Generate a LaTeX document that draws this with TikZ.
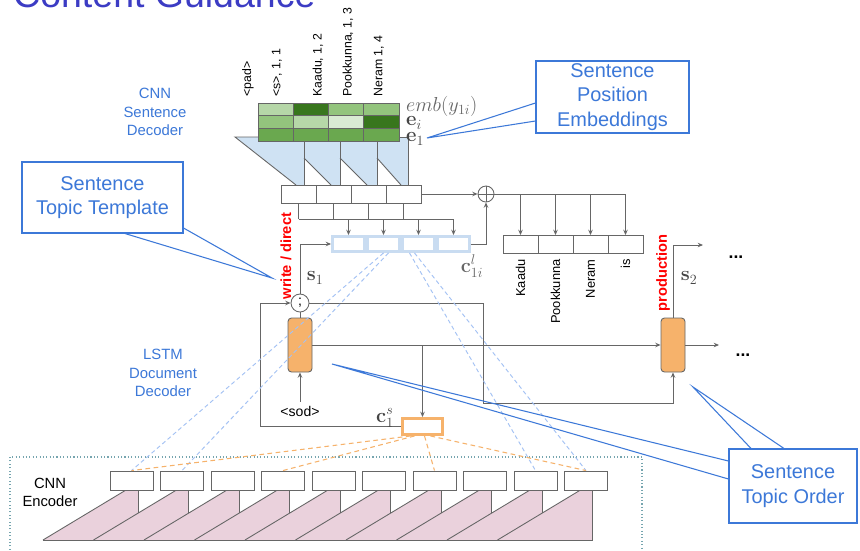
\documentclass[tikz,border=0pt]{standalone}
\usepackage[no-math]{fontspec}
\setmainfont{Liberation Sans}
\usepackage{amsmath,amssymb}
\usepackage{xcolor}
\usepackage{tikz}
\usetikzlibrary{arrows.meta,positioning,calc}

\definecolor{linegray}{HTML}{666666}
\definecolor{mathgray}{HTML}{454545}
\definecolor{cblue}{HTML}{3C78D8}
\definecolor{titleblue}{HTML}{3C3CC4}
\definecolor{decblue}{HTML}{CFE2F3}
\definecolor{ctxblue}{HTML}{C9DCF1}
\definecolor{dashblue}{HTML}{A4C2F4}
\definecolor{lstmorange}{HTML}{F6B26B}
\definecolor{encpink}{HTML}{EAD1DC}
\definecolor{dotteal}{HTML}{76A5AF}
\definecolor{gA}{HTML}{D9EAD3}
\definecolor{gB}{HTML}{B6D7A8}
\definecolor{gC}{HTML}{93C47D}
\definecolor{gD}{HTML}{6AA84F}
\definecolor{gE}{HTML}{38761D}

\begin{document}
\begin{tikzpicture}[x=0.03cm,y=-0.03cm,
  font=\fontsize{11}{13}\selectfont,
  line/.style={draw=linegray,line width=0.75pt},
  arr/.style={line,-{Stealth[length=4.5pt,width=3.8pt]}},
  cellbox/.style={line,fill=white,minimum width=1.05cm,minimum height=0.54cm,inner sep=0pt},
  ctxbox/.style={draw=ctxblue,line width=2.2pt,fill=white,minimum width=0.97cm,minimum height=0.46cm,inner sep=0pt},
  encbox/.style={line,fill=white,minimum width=1.29cm,minimum height=0.57cm,inner sep=0pt},
  lstmcell/.style={line,fill=lstmorange,rounded corners=3pt,minimum width=0.72cm,minimum height=1.62cm,inner sep=0pt},
  toplab/.style={rotate=90,anchor=west,inner sep=1pt,font=\fontsize{10.5}{12}\selectfont},
  wordlab/.style={rotate=90,anchor=east,inner sep=1pt},
  mathlab/.style={font=\fontsize{16.5}{19}\selectfont,text=mathgray,inner sep=0pt},
  redlab/.style={rotate=90,text=red,font=\fontsize{12.5}{15}\selectfont\bfseries},
  bluelab/.style={text=cblue,align=center,font=\fontsize{12.7}{15.5}\selectfont},
  callbox/.style={draw=cblue,line width=0.9pt,text=cblue,align=center,font=\fontsize{17}{21}\selectfont,inner sep=0pt},
  callline/.style={draw=cblue,line width=0.9pt},
  attn/.style={draw=dashblue,line width=0.8pt,dash pattern=on 3.5pt off 2.5pt},
  focus/.style={draw=lstmorange,line width=0.9pt,dash pattern=on 4pt off 3pt},
]
\useasboundingbox (0,0) rectangle (860,550);
\fill[white] (0,0) rectangle (860,550);
\clip (0,0) rectangle (860,550);

% title, cut by the page edge
\node[anchor=base west,inner sep=0pt,text=titleblue,font=\fontsize{32}{38}\selectfont] (title) at (13,7) {Content Guidance};

% CNN sentence decoder
\fill[decblue] (235,137) -- (304,137) -- (304,185) -- (296,185) -- cycle;
\foreach \a/\b/\c in {304/340/331, 340/377/367, 377/408/401}
  \fill[decblue] (\a,137) -- (\b,137) -- (\b,185) -- (\c,185) -- (\a,158) -- cycle;
\draw[line] (258,137) -- (235,137) -- (296,185);
\foreach \a/\b/\c in {304/340/331, 340/377/367, 377/408/401}
  \draw[line] (\a,158) -- (\c,185);
\foreach \v in {304,340,377} \draw[line] (\v,141) -- (\v,185);
\draw[line] (399,137) -- (408,137) -- (408,185);

\foreach \c [count=\i from 0] in {gB,gE,gC,gC}
  \draw[line,fill=\c] ({258+35.25*\i},103) rectangle ++(35.25,12.7);
\foreach \c [count=\i from 0] in {gC,gB,gA,gE}
  \draw[line,fill=\c] ({258+35.25*\i},115.7) rectangle ++(35.25,12.6);
\foreach \c [count=\i from 0] in {gD,gD,gD,gD}
  \draw[line,fill=\c] ({258+35.25*\i},128.3) rectangle ++(35.25,12.7);

\node[toplab] at (248,98) {<pad>};
\node[toplab] at (277,98) {<s>, 1, 1};
\node[toplab] at (318,98) {Kaadu, 1, 2};
\node[toplab] at (348,98) {Pookkunna, 1, 3};
\node[toplab] at (379,98) {Neram 1, 4};

\node[mathlab,anchor=west,text=linegray] (embl) at (406,106) {$emb(y_{1i})$};
\node[mathlab,anchor=west] (eil) at (406,123) {$\mathbf{e}_i$};
\node[mathlab,anchor=west] (e1l) at (406,139) {$\mathbf{e}_1$};

\foreach \i in {1,...,4} \node[cellbox] (dec\i) at ({263.5+35*\i},194) {};
\node[circle,line,fill=white,minimum size=0.48cm,inner sep=0pt] (plus) at (486,194) {};
\draw[line] (plus.north) -- (plus.south) (plus.west) -- (plus.east);
\draw[arr] (dec4.east) -- (plus.west);

\foreach \i in {1,...,4} \node[cellbox] (w\i) at ({485.5+35*\i},244.5) {};
\draw[line] (plus.east) -- (w4.north |- plus.east);
\foreach \i in {1,...,4} \draw[arr] (w\i.north |- plus.east) -- (w\i.north);
\foreach \w [count=\i] in {Kaadu,Pookkunna,Neram,is}
  \node[wordlab] at ($(w\i.south)+(0,4)$) {\w};

\coordinate (bus) at (0,219);
\foreach \i in {1,...,4} \node[ctxbox] (cl\i) at ({313.5+35*\i},244) {};
\foreach \i in {1,...,4} \draw[line] (dec\i.south) -- (dec\i.south |- bus);
\draw[line] (dec1.south |- bus) -- (cl4.north |- bus);
\foreach \i in {1,...,4} \draw[arr] (cl\i.north |- bus) -- (cl\i.north);
\draw[arr] (cl4.east) -| (plus.south);
\node[mathlab,text=linegray] (cll) at (472,266) {$\mathbf{c}^{l}_{1i}$};

% LSTM document decoder
\node[circle,line,fill=white,minimum size=0.54cm,inner sep=0pt,font=\fontsize{12}{14}\selectfont] (cat) at (300,303) {;};
\node[lstmcell] (lstm1) at (300,345) {};
\node[lstmcell] (lstm2) at (673,345) {};
\node[font=\fontsize{12}{14}\selectfont] (sod) at (300,411) {<sod>};
\node[draw=lstmorange,line width=2.5pt,fill=white,minimum width=1.2cm,minimum height=0.48cm,inner sep=0pt] (cs) at (422.5,426.5) {};
\coordinate (loopl) at (260,303);
\coordinate (loopr) at (483,403);
\coordinate (out1) at (719,345);
\coordinate (out2) at (703,245);

\draw[arr] (cat.north) |- (cl1.west);
\draw[line] (cat.south) -- (lstm1.north);
\draw[arr] (sod.north) -- (lstm1.south);
\draw[arr] (lstm1.east) -- (lstm2.west);
\draw[arr] (cs.north |- lstm1.east) -- (cs.north);
\draw[arr] (cs.west) -| (loopl) -- (cat.west);
\draw[arr] (cat.east) -| (loopr) -| (lstm2.south);
\draw[arr] (lstm2.east) -- (out1);
\draw[arr] (lstm2.north) |- (out2);
\node[anchor=base,font=\fontsize{15}{17}\selectfont\bfseries] (dots1) at (743,356) {...};
\node[anchor=base,font=\fontsize{15}{17}\selectfont\bfseries] (dots2) at (736,258) {...};

\node[redlab] (wdl) at (286,256) {write / direct};
\node[redlab] (prl) at (663,273) {production};
\node[mathlab] (s1l) at (315,278) {$\mathbf{s}_1$};
\node[mathlab] (s2l) at (689,278) {$\mathbf{s}_2$};
\node[mathlab] (csl) at (385,418) {$\mathbf{c}^{s}_{1}$};

\node[bluelab] (cnnsd) at (155,112) {CNN\\Sentence\\Decoder};
\node[bluelab] (lstmdd) at (163,373) {LSTM\\Document\\Decoder};

% CNN encoder
\draw[dotteal,line width=0.9pt,dotted] (10,560) |- (642,457) -- (642,560);
\node[align=center,font=\fontsize{12.6}{15.5}\selectfont] (cnne) at (50,492) {CNN\\Encoder};
\foreach \k in {0,...,8}
  \fill[encpink] ({126+50.5*\k},490) -- ({138+50.5*\k},490) -- ({138+50.5*\k},513.2)
    -- ({93.5+50.5*\k},540) -- ({43+50.5*\k},540) -- cycle;
\fill[encpink] (580.5,490) -- (592.5,490) -- (592.5,540) -- (497.5,540) -- cycle;
\foreach \k in {0,...,9} \draw[line] ({126+50.5*\k},490) -- ({43+50.5*\k},540);
\foreach \k in {0,...,8} \draw[line] ({138+50.5*\k},490) -- ({138+50.5*\k},513.2);
\draw[line] (592.5,490) -- (592.5,540) -- (43,540);
\foreach \k in {0,...,9} \node[encbox] (enc\k) at ({131.5+50.5*\k},480.5) {};

% attention lines
\draw[attn] (cl2.south) -- (enc0.north);
\draw[attn] ($(cl2.south)+(5,0)$) -- (enc1.north);
\draw[attn] ($(cl3.south)+(-9,0)$) -- (enc8.north);
\draw[attn] ($(cl3.south)+(-4,0)$) -- (enc9.north);
\draw[focus] ($(cs.south)+(-12,0)$) -- (enc0.north);
\draw[focus] ($(cs.south)+(-8,0)$) -- (enc3.north);
\draw[focus] ($(cs.south)+(2,0)$) -- (enc6.north);
\draw[focus] ($(cs.south)+(8,0)$) -- (enc9.north);

% callouts
\node[callbox,minimum width=4.59cm,minimum height=2.16cm] (posbox) at (612.5,97) {Sentence\\Position\\Embeddings};
\node[callbox,minimum width=4.83cm,minimum height=2.13cm] (tplbox) at (102.5,197.5) {Sentence\\Topic Template};
\node[callbox,minimum width=3.84cm,minimum height=2.22cm] (ordbox) at (793,486) {Sentence\\Topic Order};
\coordinate (postip) at (427,138);
\coordinate (tpltip) at (272,278);
\coordinate (ordtipa) at (332,364);
\coordinate (ordtipb) at (693,387);
\draw[callline] ($(posbox.west)+(0,6)$) -- (postip) -- ($(posbox.west)+(0,24)$);
\draw[callline] ($(tplbox.south)+(22.5,0)$) -- (tpltip) -- ($(tplbox.east)+(0,30.5)$);
\draw[callline] ($(ordbox.west)+(0,-25)$) -- (ordtipa) -- ($(ordbox.west)+(0,-7)$);
\draw[callline] ($(ordbox.north)+(-42,0)$) -- (ordtipb) -- ($(ordbox.north)+(-9,0)$);
\end{tikzpicture}
\end{document}
